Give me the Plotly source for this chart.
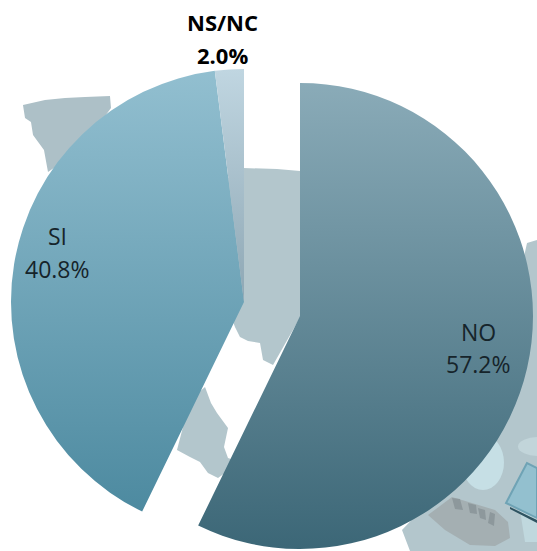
import json
import plotly.graph_objects as go

W, H = 537, 551

categories = ["NO", "SI", "NS/NC"]
values = [57.2, 40.8, 2.0]

colors_top = ["#8aabb8", "#92bfd0", "#c0d6e1"]
colors_bottom = ["#3c6777", "#4d8aa0", "#8ea7b4"]
label_pos = {"NO": (478, 332, 364), "SI": (57, 236, 269), "NS/NC": (222, 22, 55)}

# (left, right, top, bottom) of each pie's square in pixels
main_box = (11, 477, 69, 535)
pulled_box = (67, 533, 83, 549)


def dom(box):
    l, r, t, b = box
    return dict(x=[l / W, r / W], y=[1 - b / H, 1 - t / H])


def pie(box, shown):
    return go.Pie(
        labels=categories, values=values, sort=False, direction="clockwise",
        rotation=0, domain=dom(box), textinfo="none", hoverinfo="label+percent",
        showlegend=False,
        marker=dict(
            colors=[colors_top[i] if categories[i] in shown else "rgba(0,0,0,0)" for i in range(3)],
            line=dict(width=0),
        ),
    )


fig = go.Figure([pie(main_box, ["SI", "NS/NC"]), pie(pulled_box, ["NO"])])


def poly(points, fill, line=None, width=0):
    d = "M" + " L".join(f"{x / W:.4f},{1 - y / H:.4f}" for x, y in points) + " Z"
    return dict(type="path", xref="paper", yref="paper", path=d, fillcolor=fill, layer="below",
                line=dict(width=width, color=line or fill))


def ell(x0, y0, x1, y1, fill):
    return dict(type="circle", xref="paper", yref="paper", x0=x0 / W, x1=x1 / W,
                y0=1 - y1 / H, y1=1 - y0 / H, fillcolor=fill, layer="below", line=dict(width=0))


BG = "#b3c6cc"
shapes = [
    poly([(23, 105), (45, 100), (65, 98), (85, 97), (110, 96), (111, 108), (80, 150), (48, 172),
          (44, 150), (33, 135), (31, 122), (25, 118)], "#adc0c7"),
    poly([(243, 168), (277, 169), (300, 171), (310, 300), (273, 365), (263, 360), (260, 343),
          (248, 341), (240, 337), (235, 327), (225, 300), (225, 180)], BG),
    poly([(205, 387), (211, 403), (217, 413), (228, 428), (224, 447), (228, 458), (240, 462),
          (218, 478), (208, 473), (200, 462), (190, 457), (177, 450), (190, 400)], BG),
    poly([(527, 243), (537, 240), (537, 551), (410, 551), (402, 530), (450, 480), (510, 320)], BG),
    ell(462, 435, 504, 490, "#c6dfe5"),
    ell(518, 437, 560, 456, "#c2d5da"),
    poly([(520, 510), (537, 510), (537, 542), (525, 542)], "#c0d8de"),
    poly([(428, 515), (452, 497), (495, 510), (508, 522), (510, 538), (495, 546), (470, 545),
          (445, 530)], "#a4afb2"),
    poly([(452, 498), (460, 499), (463, 510), (455, 509)], "#8d989c"),
    poly([(468, 503), (476, 505), (477, 514), (470, 513)], "#8d989c"),
    poly([(478, 508), (485, 510), (486, 520), (480, 518)], "#8d989c"),
    poly([(490, 512), (495, 514), (494, 526), (488, 523)], "#8d989c"),
    poly([(510, 507), (537, 520), (537, 523), (510, 509)], "#2e5361"),
    poly([(527, 463), (506, 503), (537, 518), (537, 468)], "#93c0cf", "#6fa3b5", 2),
]

annotations = []
for cat, val in zip(categories, values):
    x, y1, y2 = label_pos[cat]
    bold = cat == "NS/NC"
    for text, y in ((cat, y1), (f"{val:.1f}%", y2)):
        annotations.append(dict(
            text=f"<b>{text}</b>" if bold else text, x=x / W, y=1 - y / H,
            xref="paper", yref="paper", xanchor="center", yanchor="middle", showarrow=False,
            font=dict(family="Open Sans", size=22 if bold else 23,
                      color="#000000" if bold else "#16242a"),
        ))

fig.update_layout(width=W, height=H, margin=dict(l=0, r=0, t=0, b=0),
                  paper_bgcolor="white", plot_bgcolor="white",
                  shapes=shapes, annotations=annotations)

grads = [[colors_top[i], colors_bottom[i]] for i in range(3)]
post = """
document.body.style.margin = '0';
document.body.style.overflow = 'hidden';
var gd = document.getElementById('{plot_id}');
var grads = %s;
var svg = gd.querySelector('svg.main-svg');
var ns = 'http://www.w3.org/2000/svg';
var defs = document.createElementNS(ns, 'defs');
grads.forEach(function (g, i) {
  var lg = document.createElementNS(ns, 'linearGradient');
  lg.setAttribute('id', 'sliceGrad' + i);
  lg.setAttribute('x1', '0'); lg.setAttribute('y1', '0');
  lg.setAttribute('x2', '0'); lg.setAttribute('y2', '1');
  [[0, g[0]], [1, g[1]]].forEach(function (s) {
    var st = document.createElementNS(ns, 'stop');
    st.setAttribute('offset', s[0]); st.setAttribute('stop-color', s[1]);
    lg.appendChild(st);
  });
  defs.appendChild(lg);
});
svg.insertBefore(defs, svg.firstChild);
var traces = gd.querySelectorAll('g.pielayer g.trace');
var shown = [[1, 2], [0]];
traces.forEach(function (t, ti) {
  var slices = t.querySelectorAll('g.slice path.surface');
  shown[ti].forEach(function (i) {
    slices[i].style.setProperty('fill', 'url(#sliceGrad' + i + ')');
  });
});
""" % json.dumps(grads)

fig.write_html("out.html", post_script=post, config={"displayModeBar": False})
